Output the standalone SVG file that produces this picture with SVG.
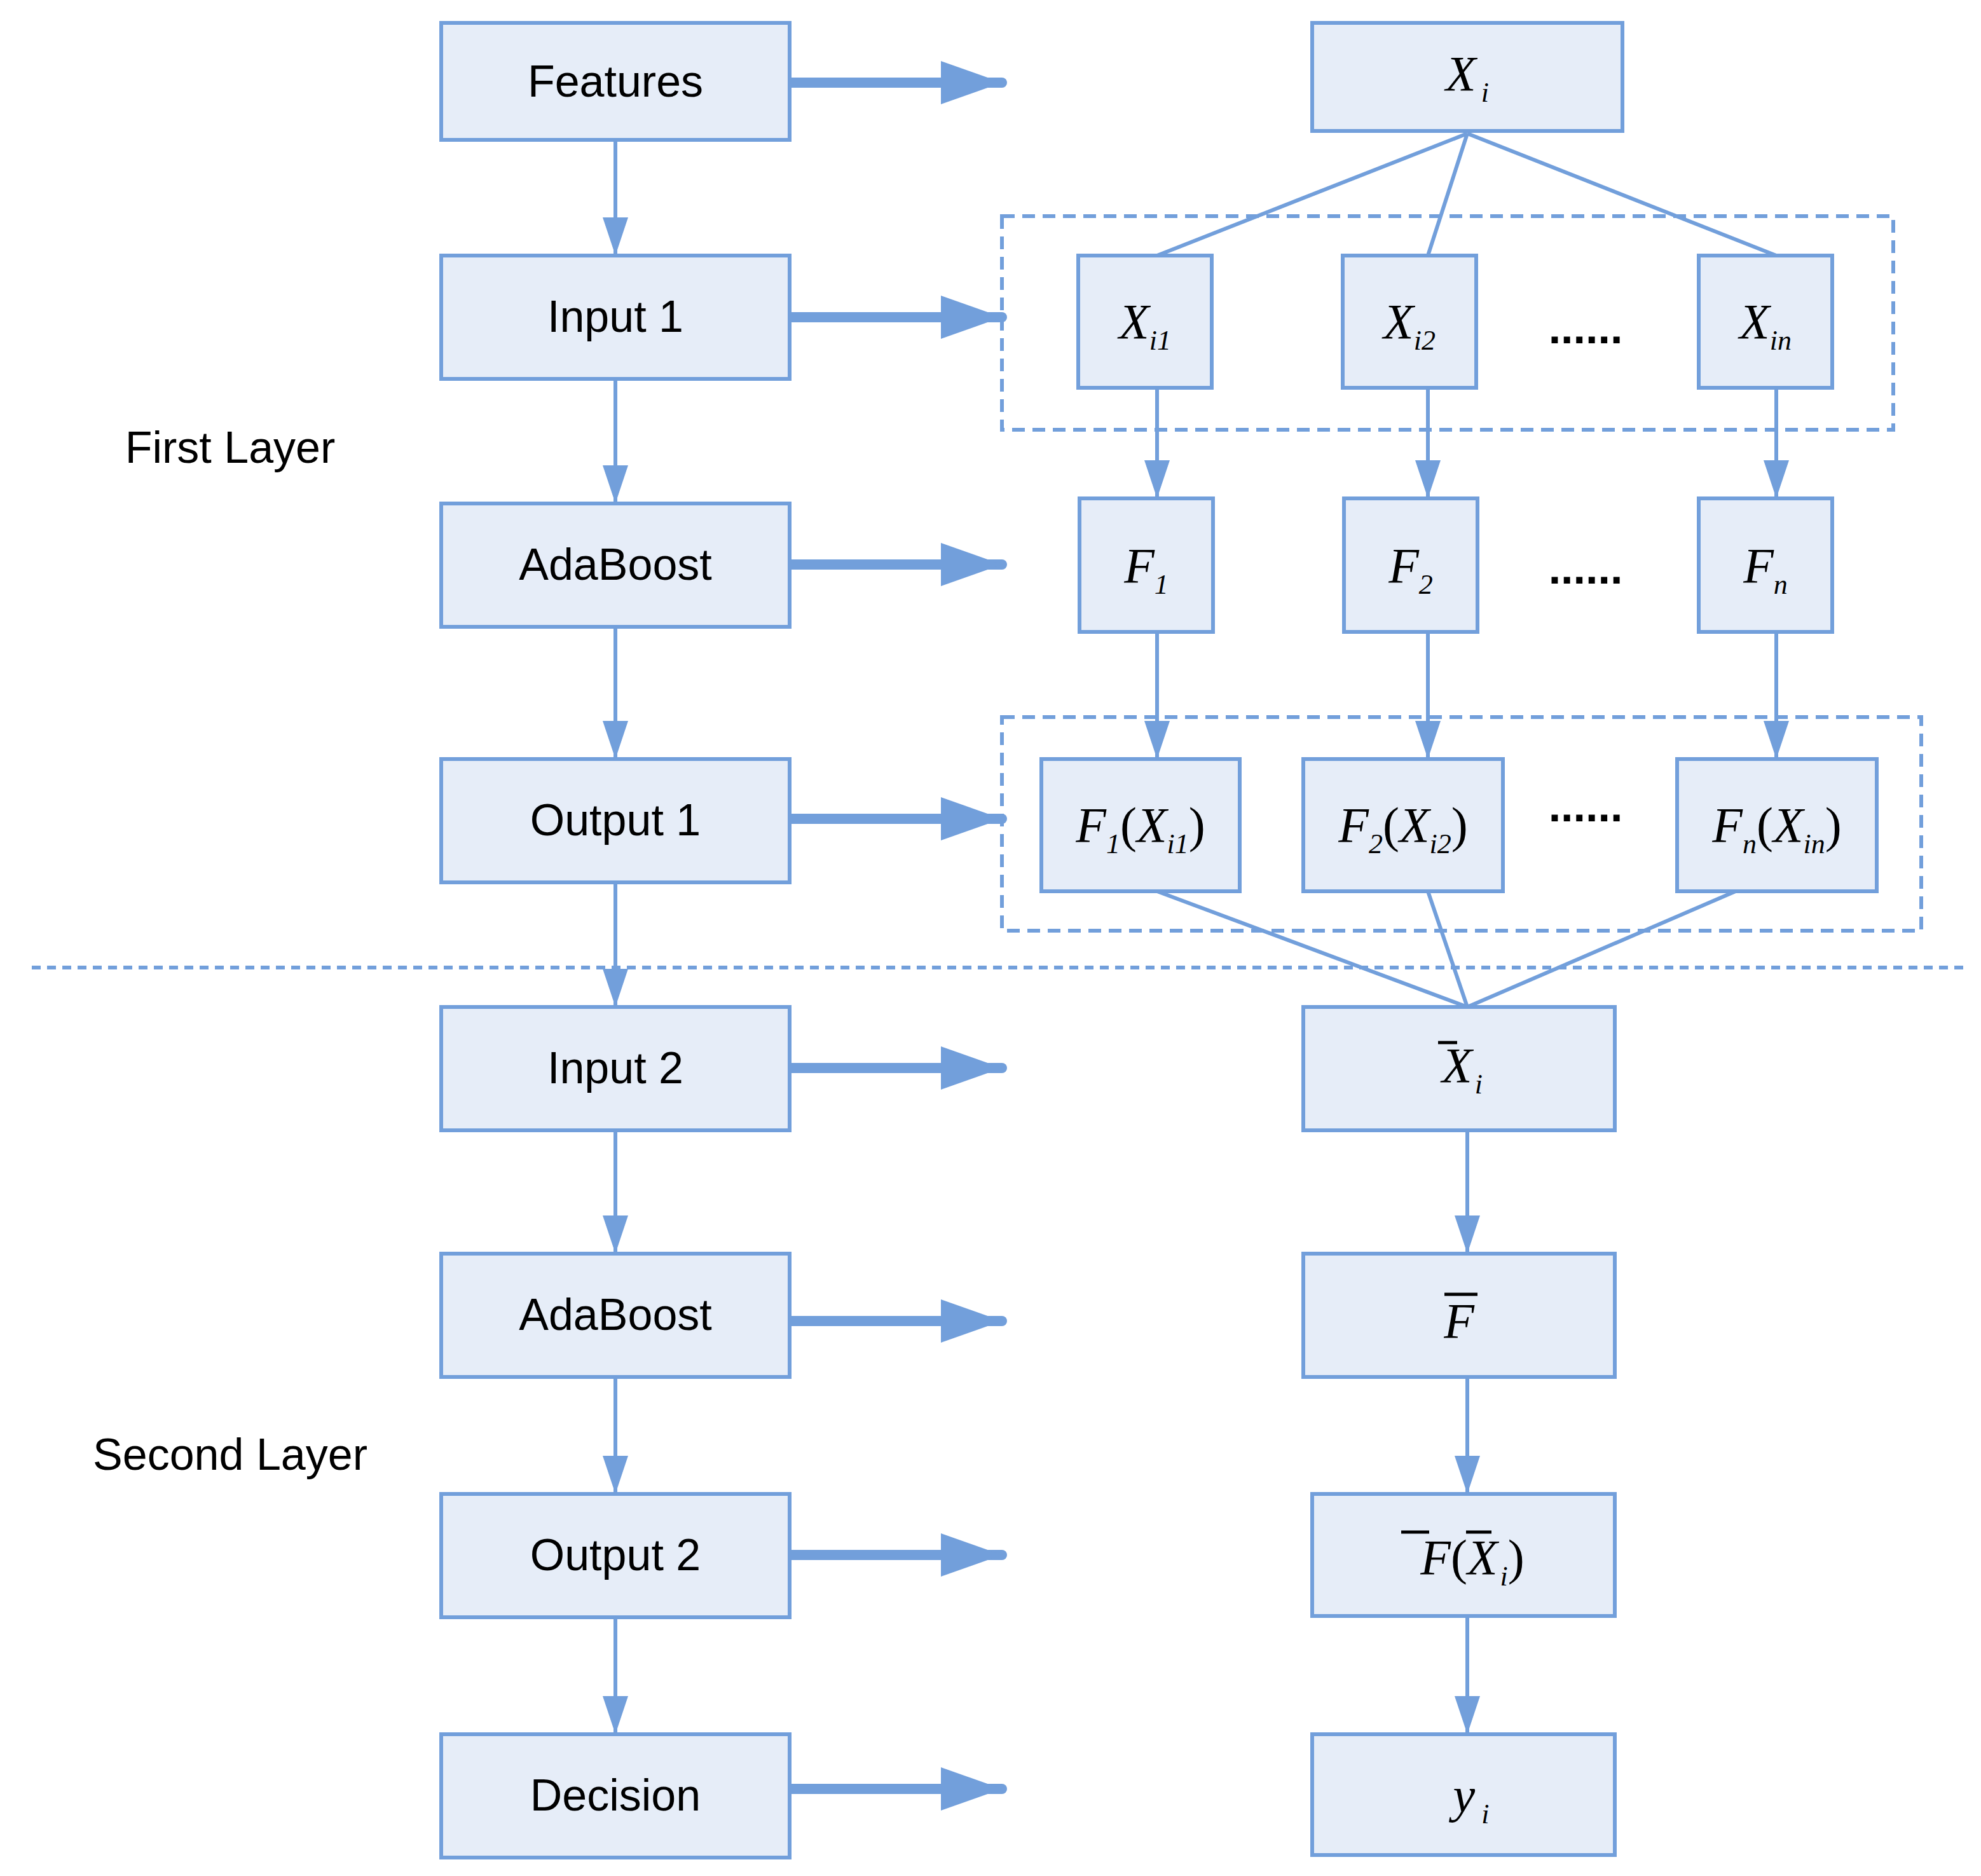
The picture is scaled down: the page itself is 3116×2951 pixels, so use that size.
<svg xmlns="http://www.w3.org/2000/svg" width="3116" height="2951" viewBox="0 0 3116 2951">
<style>
.b{fill:#e6edf8;stroke:#729fdb;stroke-width:6}
.t{font-family:"Liberation Sans",Arial,sans-serif;font-size:70px;fill:#000;text-anchor:middle}
.m{font-family:"Liberation Serif","Times New Roman",serif;font-style:italic;font-size:78px;fill:#000;text-anchor:middle}
.s{font-size:44px}
.c{stroke:#729fdb;stroke-width:6;fill:none}
.k{stroke:#729fdb;stroke-width:16;fill:none;stroke-linecap:round}
.d{stroke:#729fdb;stroke-width:6;fill:none;stroke-dasharray:20 12}
.dots{font-family:"Liberation Sans",Arial,sans-serif;font-size:70px;font-weight:bold;fill:#000;text-anchor:middle}
</style>
<defs>
<marker id="a" viewBox="0 0 60 40" refX="60" refY="20" markerWidth="60" markerHeight="40" markerUnits="userSpaceOnUse" orient="auto"><path d="M0,0L60,20L0,40z" fill="#729fdb"/></marker>
<marker id="A" viewBox="0 0 96 68" refX="96" refY="34" markerWidth="96" markerHeight="68" markerUnits="userSpaceOnUse" orient="auto"><path d="M0,0L96,34L0,68z" fill="#729fdb"/></marker>
</defs>
<rect width="3116" height="2951" fill="#fff"/>
<g id="groups">
<rect class="d" x="1576" y="340" width="1402" height="336"/>
<rect class="d" x="1576" y="1128" width="1446" height="336"/>
<line x1="50" y1="1522" x2="3096" y2="1522" stroke="#729fdb" stroke-width="6" stroke-dasharray="14 10"/>
</g>
<g id="connectors">
<line class="c" x1="968" y1="220" x2="968" y2="402" marker-end="url(#a)"/>
<line class="c" x1="968" y1="596" x2="968" y2="792" marker-end="url(#a)"/>
<line class="c" x1="968" y1="986" x2="968" y2="1194" marker-end="url(#a)"/>
<line class="c" x1="968" y1="1388" x2="968" y2="1584" marker-end="url(#a)"/>
<line class="c" x1="968" y1="1778" x2="968" y2="1972" marker-end="url(#a)"/>
<line class="c" x1="968" y1="2166" x2="968" y2="2350" marker-end="url(#a)"/>
<line class="c" x1="968" y1="2544" x2="968" y2="2728" marker-end="url(#a)"/>
<line class="k" x1="1242" y1="130" x2="1576" y2="130" marker-end="url(#A)"/>
<line class="k" x1="1242" y1="499" x2="1576" y2="499" marker-end="url(#A)"/>
<line class="k" x1="1242" y1="888" x2="1576" y2="888" marker-end="url(#A)"/>
<line class="k" x1="1242" y1="1288" x2="1576" y2="1288" marker-end="url(#A)"/>
<line class="k" x1="1242" y1="1680" x2="1576" y2="1680" marker-end="url(#A)"/>
<line class="k" x1="1242" y1="2078" x2="1576" y2="2078" marker-end="url(#A)"/>
<line class="k" x1="1242" y1="2446" x2="1576" y2="2446" marker-end="url(#A)"/>
<line class="k" x1="1242" y1="2814" x2="1576" y2="2814" marker-end="url(#A)"/>
<line class="c" x1="2308" y1="210" x2="1820" y2="402"/>
<line class="c" x1="2308" y1="210" x2="2246" y2="402"/>
<line class="c" x1="2308" y1="210" x2="2794" y2="402"/>
<line class="c" x1="1820" y1="610" x2="1820" y2="784" marker-end="url(#a)"/>
<line class="c" x1="2246" y1="610" x2="2246" y2="784" marker-end="url(#a)"/>
<line class="c" x1="2794" y1="610" x2="2794" y2="784" marker-end="url(#a)"/>
<line class="c" x1="1820" y1="994" x2="1820" y2="1194" marker-end="url(#a)"/>
<line class="c" x1="2246" y1="994" x2="2246" y2="1194" marker-end="url(#a)"/>
<line class="c" x1="2794" y1="994" x2="2794" y2="1194" marker-end="url(#a)"/>
<line class="c" x1="1820" y1="1402" x2="2308" y2="1584"/>
<line class="c" x1="2246" y1="1402" x2="2308" y2="1584"/>
<line class="c" x1="2730" y1="1402" x2="2308" y2="1584"/>
<line class="c" x1="2308" y1="1778" x2="2308" y2="1972" marker-end="url(#a)"/>
<line class="c" x1="2308" y1="2166" x2="2308" y2="2350" marker-end="url(#a)"/>
<line class="c" x1="2308" y1="2542" x2="2308" y2="2728" marker-end="url(#a)"/>
</g>
<g id="features"><rect class="b" x="694" y="36" width="548" height="184"/><text class="t" x="968" y="152">Features</text></g>
<g id="input1"><rect class="b" x="694" y="402" width="548" height="194"/><text class="t" x="968" y="522">Input 1</text></g>
<g id="adaboost1"><rect class="b" x="694" y="792" width="548" height="194"/><text class="t" x="968" y="912">AdaBoost</text></g>
<g id="output1"><rect class="b" x="694" y="1194" width="548" height="194"/><text class="t" x="968" y="1314">Output 1</text></g>
<g id="input2"><rect class="b" x="694" y="1584" width="548" height="194"/><text class="t" x="968" y="1704">Input 2</text></g>
<g id="adaboost2"><rect class="b" x="694" y="1972" width="548" height="194"/><text class="t" x="968" y="2092">AdaBoost</text></g>
<g id="output2"><rect class="b" x="694" y="2350" width="548" height="194"/><text class="t" x="968" y="2470">Output 2</text></g>
<g id="decision"><rect class="b" x="694" y="2728" width="548" height="194"/><text class="t" x="968" y="2848">Decision</text></g>
<g id="firstlayer"><text class="t" x="362" y="728">First Layer</text></g>
<g id="secondlayer"><text class="t" x="362" y="2312">Second Layer</text></g>
<g id="xi"><rect class="b" x="2064" y="36" width="488" height="170"/><text class="m" x="2308" y="142">X<tspan class="s" dx="8" dy="18">i</tspan></text></g>
<g id="xi1"><rect class="b" x="1696" y="402" width="210" height="208"/><text class="m" x="1801" y="532">X<tspan class="s" dy="18">i1</tspan></text></g>
<g id="xi2"><rect class="b" x="2112" y="402" width="210" height="208"/><text class="m" x="2217" y="532">X<tspan class="s" dy="18">i2</tspan></text></g>
<g id="dots1"><text class="dots" x="2494" y="540">......</text></g>
<g id="xin"><rect class="b" x="2672" y="402" width="210" height="208"/><text class="m" x="2777" y="532">X<tspan class="s" dy="18">in</tspan></text></g>
<g id="f1"><rect class="b" x="1698" y="784" width="210" height="210"/><text class="m" x="1803" y="916">F<tspan class="s" dy="18">1</tspan></text></g>
<g id="f2"><rect class="b" x="2114" y="784" width="210" height="210"/><text class="m" x="2219" y="916">F<tspan class="s" dy="18">2</tspan></text></g>
<g id="dots2"><text class="dots" x="2494" y="918">......</text></g>
<g id="fn"><rect class="b" x="2672" y="784" width="210" height="210"/><text class="m" x="2777" y="916">F<tspan class="s" dy="18">n</tspan></text></g>
<g id="f1x"><rect class="b" x="1638" y="1194" width="312" height="208"/><text class="m" x="1794" y="1324">F<tspan class="s" dy="18">1</tspan><tspan dy="-18" font-style="normal">(</tspan>X<tspan class="s" dy="18">i1</tspan><tspan dy="-18" font-style="normal">)</tspan></text></g>
<g id="f2x"><rect class="b" x="2050" y="1194" width="314" height="208"/><text class="m" x="2207" y="1324">F<tspan class="s" dy="18">2</tspan><tspan dy="-18" font-style="normal">(</tspan>X<tspan class="s" dy="18">i2</tspan><tspan dy="-18" font-style="normal">)</tspan></text></g>
<g id="dots3"><text class="dots" x="2494" y="1292">......</text></g>
<g id="fnx"><rect class="b" x="2638" y="1194" width="314" height="208"/><text class="m" x="2795" y="1324">F<tspan class="s" dy="18">n</tspan><tspan dy="-18" font-style="normal">(</tspan>X<tspan class="s" dy="18">in</tspan><tspan dy="-18" font-style="normal">)</tspan></text></g>
<g id="xbar"><rect class="b" x="2050" y="1584" width="490" height="194"/><text class="m" x="2300" y="1702">X<tspan class="s" dx="4" dy="18">i</tspan></text><line x1="2262" y1="1640" x2="2292" y2="1640" stroke="#000" stroke-width="5"/></g>
<g id="fbar"><rect class="b" x="2050" y="1972" width="490" height="194"/><text class="m" x="2295" y="2104">F</text><line x1="2272" y1="2036" x2="2324" y2="2036" stroke="#000" stroke-width="5"/></g>
<g id="fbarx"><rect class="b" x="2064" y="2350" width="476" height="192"/><text class="m" x="2316" y="2476">F<tspan font-style="normal">(</tspan>X<tspan class="s" dx="4" dy="18">i</tspan><tspan dy="-18" font-style="normal">)</tspan></text><line x1="2204" y1="2410" x2="2248" y2="2410" stroke="#000" stroke-width="5"/><line x1="2306" y1="2410" x2="2346" y2="2410" stroke="#000" stroke-width="5"/></g>
<g id="yi"><rect class="b" x="2064" y="2728" width="476" height="190"/><text class="m" x="2314" y="2850">y<tspan class="s" dx="10" dy="18">i</tspan></text></g>
</svg>
